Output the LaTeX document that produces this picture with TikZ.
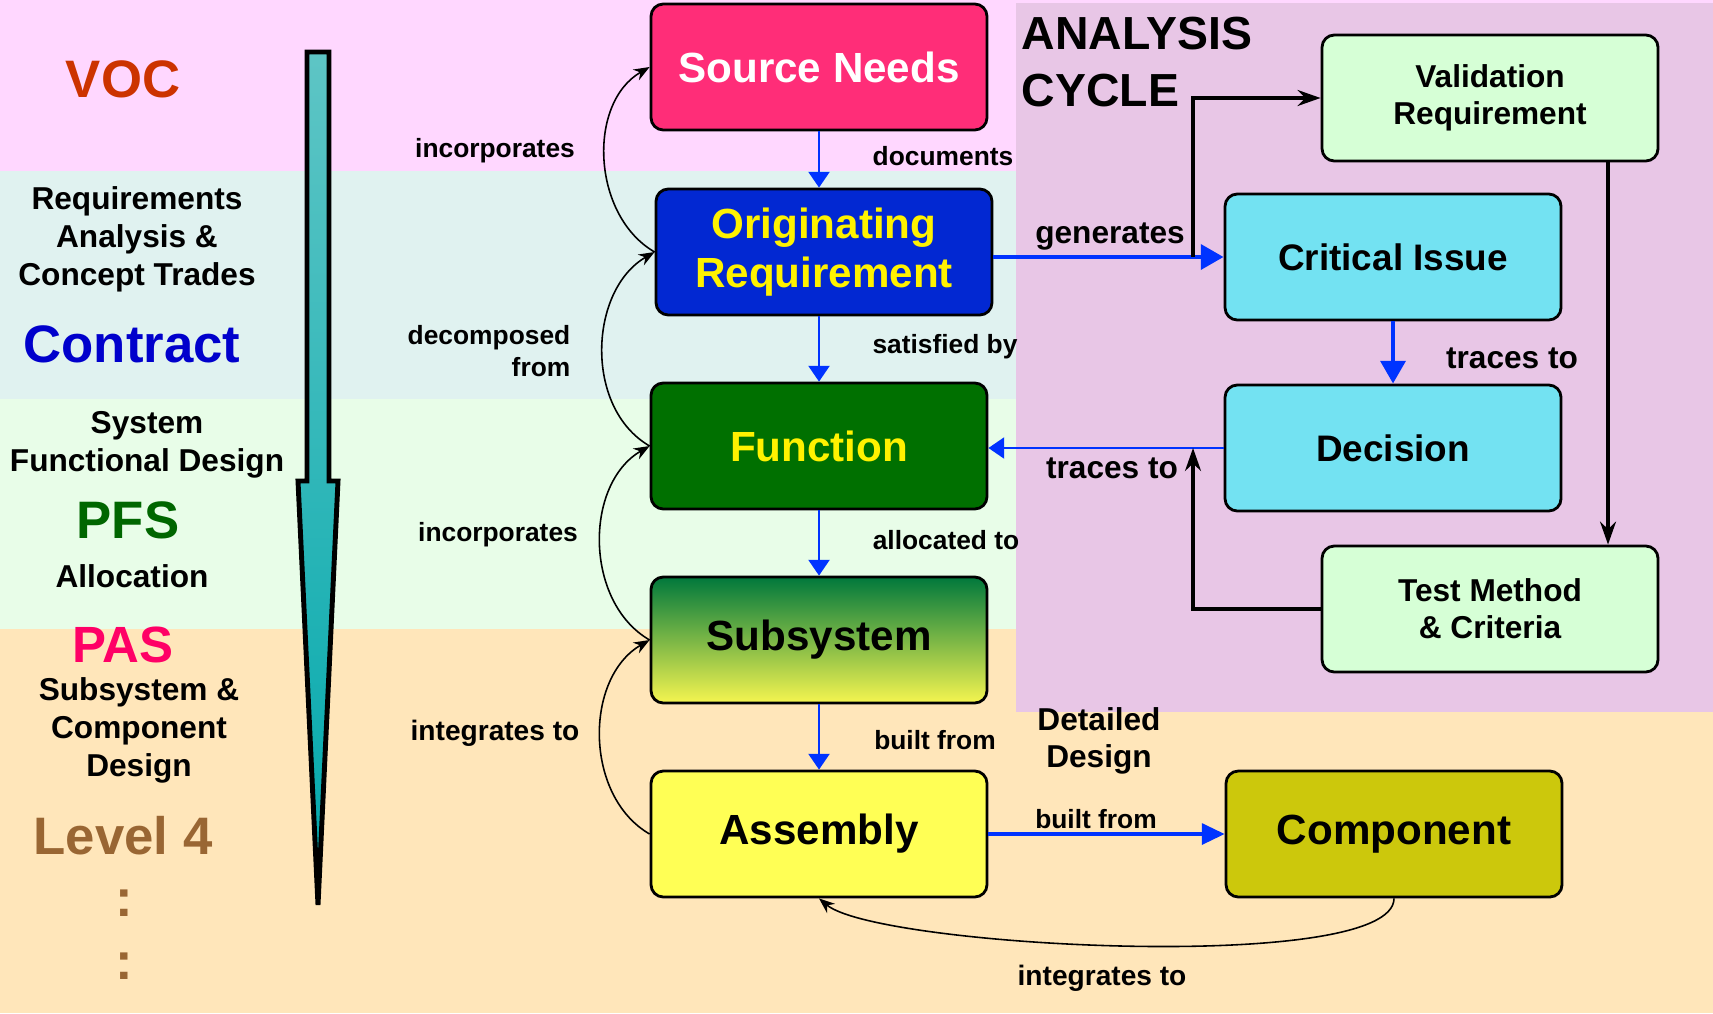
\documentclass[tikz,border=0pt]{standalone}
\usepackage{fontspec}
\setmainfont{Liberation Sans}
\usetikzlibrary{positioning, arrows.meta}

\definecolor{bandpink}{RGB}{255,215,255}
\definecolor{bandcyan}{RGB}{224,242,240}
\definecolor{bandgreen}{RGB}{232,253,232}
\definecolor{bandpeach}{RGB}{255,230,186}
\definecolor{bandpurple}{RGB}{232,198,230}
\definecolor{arrowtop}{RGB}{94,197,197}
\definecolor{arrowbot}{RGB}{0,168,172}
\definecolor{needred}{RGB}{255,45,120}
\definecolor{origblue}{RGB}{2,40,210}
\definecolor{funcgreen}{RGB}{0,112,0}
\definecolor{subtop}{RGB}{0,120,60}
\definecolor{submid}{RGB}{130,180,80}
\definecolor{subbot}{RGB}{245,245,80}
\definecolor{asmyellow}{RGB}{255,255,85}
\definecolor{compolive}{RGB}{204,200,12}
\definecolor{issuecyan}{RGB}{115,226,242}
\definecolor{testgreen}{RGB}{214,255,214}
\definecolor{flowblue}{RGB}{0,51,255}
\definecolor{vocred}{RGB}{204,51,0}
\definecolor{contractblue}{RGB}{0,0,204}
\definecolor{pfsgreen}{RGB}{0,102,0}
\definecolor{pasred}{RGB}{255,0,102}
\definecolor{levelbrown}{RGB}{153,102,51}

\tikzset{
    >={Stealth[length=4.5pt,width=3.5pt]}, % default head for the black connectors
    node distance=1.94cm, % centre to centre, main column
    box/.style={draw, line width=0.8pt, rounded corners=3.5pt, minimum width=3.36cm, minimum height=1.26cm, align=center, inner sep=2pt},
    mainbox/.style={box, font=\bfseries\fontsize{12}{14}\selectfont},
    issuebox/.style={box, fill=issuecyan, font=\bfseries\fontsize{10.5}{12.5}\selectfont},
    testbox/.style={box, fill=testgreen, font=\bfseries\fontsize{9}{10.6}\selectfont},
    flow/.style={draw=flowblue, line width=0.6pt, -{Triangle[length=4.5pt,width=6pt]}},
    bigflow/.style={draw=flowblue, line width=1.4pt, -{Triangle[length=6.5pt,width=7pt]}},
    link/.style={->, line width=0.45pt},
    cycleline/.style={-{Stealth[length=6.5pt,width=4.5pt]}, line width=1.2pt},
    lbl/.style={font=\bfseries\fontsize{7.5}{9}\selectfont, inner sep=0pt},
    midlbl/.style={font=\bfseries\fontsize{9}{10.6}\selectfont, inner sep=0pt, align=center},
    side/.style={font=\bfseries\fontsize{9}{10.8}\selectfont, align=center, inner sep=0pt},
    tag/.style={font=\bfseries\fontsize{15}{18}\selectfont, inner sep=0pt},
}

\begin{document}
\begin{tikzpicture}
\useasboundingbox (0,0) rectangle (17.13,-10.13);

% bands
\fill[bandpink] (0,0) rectangle (17.13,-1.71);
\fill[bandcyan] (0,-1.71) rectangle (17.13,-3.99);
\fill[bandgreen] (0,-3.99) rectangle (17.13,-6.29);
\fill[bandpeach] (0,-6.29) rectangle (17.13,-10.13);
\fill[bandpurple] (10.16,-0.03) rectangle (17.13,-7.12);

% level arrow
\draw[line width=1.4pt, top color=arrowtop, bottom color=arrowbot]
    (3.07,-0.52) -- (3.29,-0.52) -- (3.29,-4.81) -- (3.38,-4.81)
    -- (3.18,-9.05) -- (2.98,-4.81) -- (3.07,-4.81) -- cycle;

% left column
\node[tag, text=vocred] (voc) at (1.23,-0.79) {VOC};
\node[side] (reqtrades) at (1.37,-2.39) {Requirements\\Analysis \&\\Concept Trades};
\node[tag, text=contractblue] (contract) at (1.32,-3.44) {Contract};
\node[side] (sysdesign) at (1.47,-4.45) {System\\Functional Design};
\node[tag, text=pfsgreen] (pfs) at (1.28,-5.20) {PFS};
\node[side] (alloc) at (1.32,-5.76) {Allocation};
\node[tag, text=pasred, font=\bfseries\fontsize{14.5}{17}\selectfont] (pas) at (1.23,-6.45) {PAS};
\node[side] (compdesign) at (1.39,-7.30) {Subsystem \&\\Component\\Design};
\node[tag, text=levelbrown] (level) at (1.23,-8.36) {Level 4};
\node[tag, text=levelbrown] (dots1) at (1.24,-9.03) {:};
\node[tag, text=levelbrown] (dots2) at (1.24,-9.66) {:};

% main column
\node[mainbox, fill=needred, text=white] (source) at (8.19,-0.67) {Source Needs};
\node[mainbox, fill=origblue, text=yellow] (orig) at (8.24,-2.52) {Originating\\Requirement};
\node[mainbox, fill=funcgreen, text=yellow, below of=orig, xshift=-0.05cm] (function) {Function};
\node[mainbox, top color=subtop, middle color=submid, bottom color=subbot, below of=function] (subsystem) {Subsystem};
\node[mainbox, fill=asmyellow, below of=subsystem] (assembly) {Assembly};
\node[mainbox, fill=compolive, right of=assembly, node distance=5.75cm] (component) {Component};

% analysis cycle
\node[anchor=west, align=left, inner sep=0pt, font=\bfseries\fontsize{13.2}{16.2}\selectfont] (cycletitle) at (10.21,-0.62) {ANALYSIS\\CYCLE};
\node[testbox] (validation) at (14.90,-0.98) {Validation\\Requirement};
\node[issuebox] (critical) at (13.93,-2.57) {Critical Issue};
\node[issuebox, below of=critical, node distance=1.91cm] (decision) {Decision};
\node[testbox] (test) at (14.90,-6.09) {Test Method\\\& Criteria};

\coordinate (split) at (11.93,-2.57);
\coordinate (tracetip) at (11.93,-4.48);

% blue flows
\draw[flow] (source.south) -- (source.south |- orig.north);
\draw[flow] (orig.south -| function.north) -- (function.north);
\draw[flow] (function.south) -- (subsystem.north);
\draw[flow] (subsystem.south) -- (assembly.north);
\draw[bigflow] (orig.east |- critical.west) -- (critical.west);
\draw[bigflow] (critical.south) -- (decision.north);
\draw[flow] (decision.west) -- (decision.west -| function.east);
\draw[flow, line width=0.9pt, -{Triangle[length=6.5pt,width=6pt]}] (assembly.east) -- (component.west);

% cycle lines
\draw[cycleline] (split) |- (validation.west);
\draw[cycleline] ([xshift=1.18cm]validation.south) -- ([xshift=1.18cm]test.north);
\draw[cycleline] (test.west) -| (tracetip);

% curved links
\draw[link] (orig.west) to[out=150, in=210] (source.west);
\draw[link] (function.west) to[out=150, in=210] (orig.west);
\draw[link] (subsystem.west) to[out=150, in=210] (function.west);
\draw[link] (assembly.west) to[out=150, in=210] (subsystem.west);
\draw[link] (component.south) to[out=-90, in=-40, looseness=0.34] (assembly.south);

% labels
\node[lbl] (lblinc1) at (4.95,-1.51) {incorporates};
\node[lbl, align=right, anchor=east] (lbldecomp) at (5.71,-3.51) {decomposed\\from};
\node[lbl] (lblinc2) at (4.98,-5.35) {incorporates};
\node[lbl, font=\bfseries\fontsize{8}{9.5}\selectfont] (lblint1) at (4.95,-7.33) {integrates to};
\node[lbl] (lbldoc) at (9.43,-1.56) {documents};
\node[lbl] (lblsat) at (9.45,-3.47) {satisfied by};
\node[lbl] (lblalloc) at (9.46,-5.40) {allocated to};
\node[lbl] (lblbuilt1) at (9.35,-7.40) {built from};
\node[lbl] (lblbuilt2) at (10.96,-8.19) {built from};
\node[midlbl] (lblgen) at (11.10,-2.37) {generates};
\node[midlbl] (lbltrace1) at (15.12,-3.58) {traces to};
\node[midlbl] (lbltrace2) at (11.12,-4.68) {traces to};
\node[midlbl] (detailed) at (10.99,-7.41) {Detailed\\Design};
\node[lbl, font=\bfseries\fontsize{8}{9.5}\selectfont] (lblint2) at (11.02,-9.78) {integrates to};

\end{tikzpicture}
\end{document}
